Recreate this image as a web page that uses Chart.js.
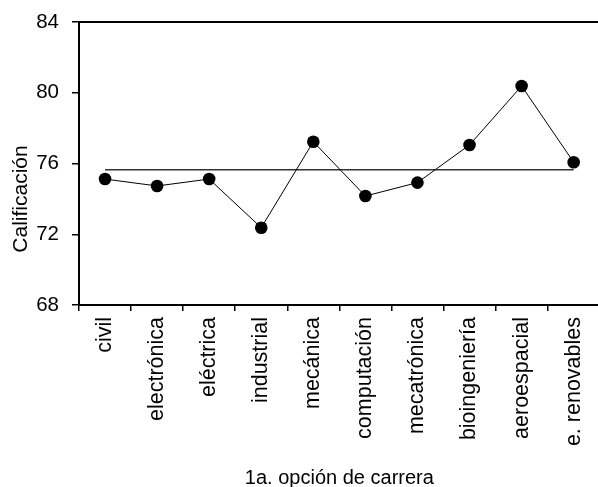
<!DOCTYPE html>
<html>
<head>
<meta charset="utf-8">
<script src="https://cdn.jsdelivr.net/npm/chart.js@4/dist/chart.umd.min.js"></script>
<style>
  html, body { margin: 0; padding: 0; background: #fff; overflow: hidden; width: 598px; height: 487px; }
  #wrap { position: absolute; left: 0; top: 0; width: 606px; height: 487px; }
</style>
</head>
<body>
<div id="wrap"><canvas id="c"></canvas></div>
<script>
const categories = ["civil", "electrónica", "eléctrica", "industrial", "mecánica", "computación", "mecatrónica", "bioingeniería", "aeroespacial", "e. renovables"];
const scores = [75.12, 74.73, 75.12, 72.37, 77.23, 74.16, 74.92, 77.05, 80.38, 76.07];
const meanScore = [75.65, 75.65, 75.65, 75.65, 75.65, 75.65, 75.65, 75.65, 75.65, 75.65];
const yTicks = [68, 72, 76, 80, 84];
const xTitle = "1a. opción de carrera";
const yTitle = "Calificación";

const FONT = "'Liberation Sans', Arial, Helvetica, sans-serif";

const frameAndTitle = {
  id: 'frameAndTitle',
  afterDraw(chart) {
    const {ctx, chartArea} = chart;
    ctx.save();
    ctx.strokeStyle = '#000';
    ctx.lineWidth = 2;
    ctx.beginPath();
    ctx.moveTo(chartArea.left - 1, chartArea.top);
    ctx.lineTo(chartArea.right + 2, chartArea.top);
    ctx.stroke();
    // y-axis title
    ctx.fillStyle = '#000';
    ctx.font = "21px " + FONT;
    ctx.textAlign = 'center';
    ctx.textBaseline = 'alphabetic';
    ctx.translate(27, 199);
    ctx.rotate(-Math.PI / 2);
    ctx.fillText(yTitle, 0, 0);
    ctx.restore();
  }
};

new Chart(document.getElementById('c'), {
  type: 'line',
  data: {
    labels: categories,
    datasets: [
      {
        data: meanScore,
        borderColor: '#333',
        borderWidth: 1.5,
        pointRadius: 0,
        pointHoverRadius: 0,
        fill: false,
        order: 2
      },
      {
        data: scores,
        borderColor: '#000',
        borderWidth: 1,
        pointRadius: 6.3,
        pointHoverRadius: 6.3,
        pointBackgroundColor: '#000',
        pointBorderColor: '#000',
        pointBorderWidth: 0,
        fill: false,
        tension: 0,
        order: 1
      }
    ]
  },
  options: {
    responsive: true,
    maintainAspectRatio: false,
    animation: false,
    events: [],
    layout: { padding: { top: 22, right: 1, left: 0, bottom: 0 } },
    plugins: { legend: { display: false }, tooltip: { enabled: false } },
    scales: {
      x: {
        type: 'category',
        offset: true,
        afterFit(scale) { scale.height = 182; scale.paddingLeft = 0; scale.paddingRight = 0; },
        grid: { display: true, drawOnChartArea: false, drawTicks: true, tickLength: 6, offset: true, color: '#000', lineWidth: 1.5 },
        border: { display: true, color: '#000', width: 2 },
        ticks: {
          color: '#000',
          font: { family: FONT, size: 21.5 },
          maxRotation: 90,
          minRotation: 90,
          autoSkip: false,
          padding: 6
        },
        title: {
          display: true,
          text: xTitle,
          color: '#000',
          font: { family: FONT, size: 20 },
          padding: { top: -3, bottom: -3 }
        }
      },
      y: {
        min: 68,
        max: 84,
        afterFit(scale) { scale.width = 79; scale.paddingTop = 0; scale.paddingBottom = 0; },
        afterBuildTicks(scale) { scale.ticks = yTicks.map(v => ({ value: v })); },
        grid: { display: true, drawOnChartArea: false, drawTicks: true, tickLength: 7, color: '#000', lineWidth: 1.5 },
        border: { display: true, color: '#000', width: 2 },
        ticks: {
          color: '#000',
          font: { family: FONT, size: 20.5 },
          padding: 13
        },
        title: { display: false }
      }
    }
  },
  plugins: [frameAndTitle]
});
</script>
</body>
</html>
